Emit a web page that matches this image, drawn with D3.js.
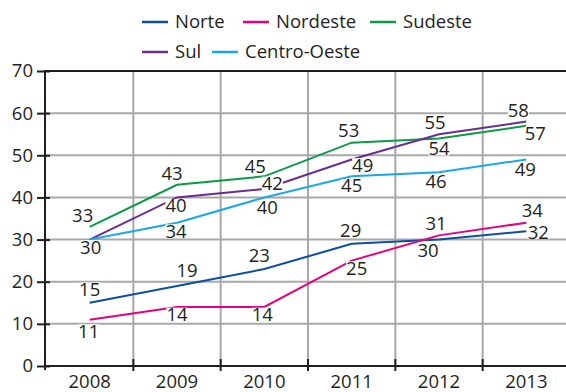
<!DOCTYPE html>
<html>
<head>
<meta charset="utf-8">
<script src="https://cdn.jsdelivr.net/npm/d3@7"></script>
<style>
  html, body { margin: 0; padding: 0; background: #fff; }
  svg { display: block; }
  text { font-family: "Open Sans", sans-serif; fill: #231f20; }
</style>
</head>
<body>
<svg id="chart" width="566" height="392"></svg>
<script>
// Years on the horizontal axis
const years = ["2008", "2009", "2010", "2011", "2012", "2013"];

// Values per region
const norte       = [15, 19, 23, 29, 30, 32];
const nordeste    = [11, 14, 14, 25, 31, 34];
const sudeste     = [33, 43, 45, 53, 54, 57];
const sul         = [30, 40, 42, 49, 55, 58];
const centroOeste = [30, 34, 40, 45, 46, 49];

const regionNames = ["Norte", "Nordeste", "Sudeste", "Sul", "Centro-Oeste"];
const yTicks = [0, 10, 20, 30, 40, 50, 60, 70];

// Styling / layout
const colors = {
  "Norte": "#0b4f9e",
  "Nordeste": "#e5007e",
  "Sudeste": "#0a9a48",
  "Sul": "#6c2d8f",
  "Centro-Oeste": "#1aa8e4"
};

// Label placement relative to each point: [dx, dy of baseline]; null = no label
const labelOffsets = {
  "Norte":        [[0, -7], [10, -9], [-5, -7], [-1, -7], [-11, 17], [12, 8]],
  "Nordeste":     [[-1, 18], [0, 14], [-2, 14], [5, 14], [-3, -5], [6, -6]],
  "Sudeste":      [[-7, -5], [-5, -5], [-9, -3], [-3, -6], [0, 17], [9, 14]],
  "Sul":          [[1, 14], [-1, 15], [8, 1], [11, 12], [-4, -5], [-8, -5]],
  "Centro-Oeste": [null, [-1, 15], [3, 17], [0, 16], [-3, 16], [-1, 16]]
};

// Legend item anchors (left end of the sample line, row centre)
const legendPos = {
  "Norte": [142, 22], "Nordeste": [243, 22], "Sudeste": [370, 22],
  "Sul": [142, 52], "Centro-Oeste": [212, 52]
};

const series = [
  { name: "Norte", values: norte },
  { name: "Nordeste", values: nordeste },
  { name: "Sudeste", values: sudeste },
  { name: "Sul", values: sul },
  { name: "Centro-Oeste", values: centroOeste }
];

const FONT = 18.5;
const axisColor = "#231f20";
const gridColor = "#a8a8a8";
const plotLeft = 45, plotRight = 566, plotTop = 71, plotBottom = 366;

const svg = d3.select("#chart");

const x = d3.scaleBand().domain(years).range([46, 570]).paddingInner(0).paddingOuter(0);
const y = d3.scaleLinear().domain([0, 70]).range([plotBottom, plotTop]);
const cx = d => x(d) + x.bandwidth() / 2;

// Grid
const grid = svg.append("g");
grid.selectAll("line.v")
  .data(years.slice(1))
  .join("line")
  .attr("x1", d => x(d)).attr("x2", d => x(d))
  .attr("y1", plotTop).attr("y2", plotBottom)
  .attr("stroke", gridColor).attr("stroke-width", 2);
grid.selectAll("line.h")
  .data(yTicks.filter(t => t > 0 && t < 70))
  .join("line")
  .attr("x1", plotLeft).attr("x2", plotRight)
  .attr("y1", d => y(d)).attr("y2", d => y(d))
  .attr("stroke", gridColor).attr("stroke-width", 2);

// Top frame line at 70
svg.append("line")
  .attr("x1", plotLeft).attr("x2", plotRight)
  .attr("y1", y(70)).attr("y2", y(70))
  .attr("stroke", axisColor).attr("stroke-width", 2);

// Y axis
const yAxis = svg.append("g")
  .attr("transform", `translate(${plotLeft},0)`)
  .call(d3.axisLeft(y).tickValues(yTicks).tickSizeInner(8).tickSizeOuter(0).tickPadding(4));
yAxis.select(".domain").remove();
yAxis.selectAll(".tick line").attr("x1", 5).attr("stroke", axisColor).attr("stroke-width", 2);
yAxis.selectAll(".tick text")
  .style("font-family", "'Open Sans', sans-serif")
  .style("font-size", FONT + "px").attr("fill", axisColor);
svg.append("line")
  .attr("x1", plotLeft).attr("x2", plotLeft)
  .attr("y1", plotTop - 1).attr("y2", plotBottom + 4)
  .attr("stroke", axisColor).attr("stroke-width", 2);

// X axis
const xAxis = svg.append("g")
  .attr("transform", `translate(0,${plotBottom})`)
  .call(d3.axisBottom(x).tickSize(0).tickPadding(9));
xAxis.select(".domain").remove();
xAxis.selectAll(".tick text")
  .style("font-family", "'Open Sans', sans-serif")
  .style("font-size", FONT + "px").attr("fill", axisColor);
svg.append("line")
  .attr("x1", plotLeft - 1).attr("x2", plotRight)
  .attr("y1", plotBottom).attr("y2", plotBottom)
  .attr("stroke", axisColor).attr("stroke-width", 2);
svg.append("g").selectAll("line")
  .data(years.slice(1))
  .join("line")
  .attr("x1", d => x(d)).attr("x2", d => x(d))
  .attr("y1", plotBottom - 7).attr("y2", plotBottom + 5)
  .attr("stroke", axisColor).attr("stroke-width", 2);

// Lines
const line = d3.line()
  .x((d, i) => cx(years[i]))
  .y(d => y(d));

svg.append("g").selectAll("path")
  .data(series)
  .join("path")
  .attr("d", d => line(d.values))
  .attr("fill", "none")
  .attr("stroke", d => colors[d.name])
  .attr("stroke-width", 2);

// Value labels with white boxes
const labelData = [];
series.forEach(s => {
  s.values.forEach((v, i) => {
    const off = labelOffsets[s.name][i];
    if (!off) return;
    labelData.push({ v, x: cx(years[i]) + off[0], y: y(v) + off[1] });
  });
});
const labels = svg.append("g");
const lg = labels.selectAll("g").data(labelData).join("g");
lg.append("rect").attr("fill", "#fff");
lg.append("text")
  .attr("x", d => d.x).attr("y", d => d.y)
  .attr("text-anchor", "middle")
  .style("font-size", FONT + "px")
  .text(d => d.v);
lg.each(function(d) {
  const g = d3.select(this);
  const w = g.select("text").node().getComputedTextLength();
  const cap = FONT * 0.72;
  g.select("rect")
    .attr("x", d.x - w / 2)
    .attr("y", d.y - cap)
    .attr("width", w)
    .attr("height", cap);
});

// Legend
const legend = svg.append("g");
const li = legend.selectAll("g").data(regionNames).join("g")
  .attr("transform", d => `translate(${legendPos[d][0]},${legendPos[d][1]})`);
li.append("line")
  .attr("x1", 0).attr("x2", 26).attr("y1", 0).attr("y2", 0)
  .attr("stroke", d => colors[d]).attr("stroke-width", 2.5);
li.append("text")
  .attr("x", 33).attr("y", 6)
  .style("font-size", FONT + "px")
  .text(d => d);
</script>
</body>
</html>
